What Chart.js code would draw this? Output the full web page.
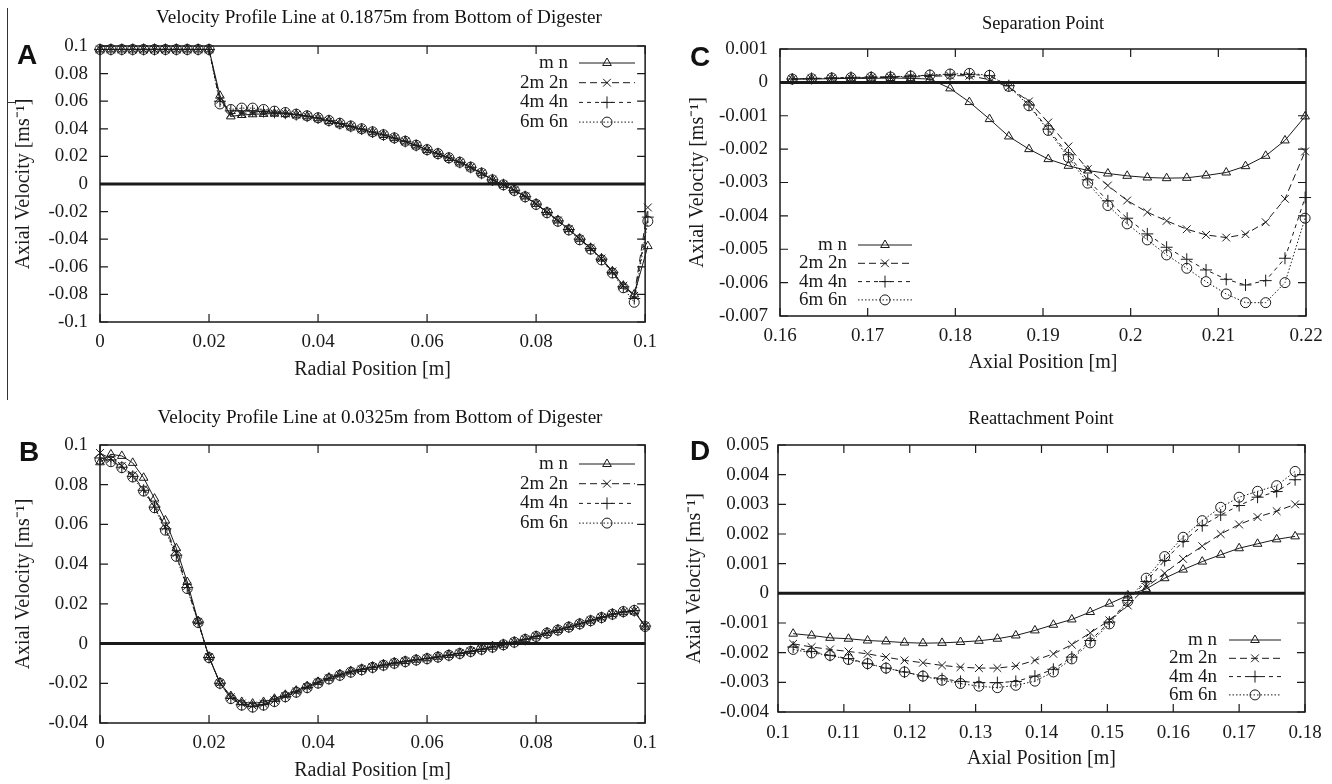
<!DOCTYPE html>
<html>
<head>
<meta charset="utf-8">
<script src="https://cdn.jsdelivr.net/npm/chart.js@4.4.1/dist/chart.umd.min.js"></script>
<style>
  body { margin: 0; background: #fff; }
  #page { position: relative; width: 1332px; height: 784px; overflow: hidden; background: #fff; font-family: "Liberation Serif", serif; color: #111; }
  canvas { position: absolute; }
  .title { position: absolute; font-size: 19px; white-space: nowrap; transform-origin: center; }
  .letter { position: absolute; font-family: "Liberation Sans", Arial, sans-serif; font-weight: bold; font-size: 28px; line-height: 1; }
  .rule { position: absolute; background: #333; }
</style>
</head>
<body>
<div id="page">
  <div class="rule" style="left:7px;top:8px;width:1px;height:392px"></div>
  <div class="rule" style="left:7px;top:102px;width:9px;height:1px"></div>

  <canvas id="chartA" width="666" height="392" style="left:0;top:0"></canvas>
  <canvas id="chartB" width="666" height="392" style="left:0;top:392px"></canvas>
  <canvas id="chartC" width="666" height="392" style="left:666px;top:0"></canvas>
  <canvas id="chartD" width="666" height="392" style="left:666px;top:392px"></canvas>

  <div class="title" data-w="446" style="left:379px;top:17px">Velocity Profile Line at 0.1875m from Bottom of Digester</div>
  <div class="title" data-w="445" style="left:380px;top:417px">Velocity Profile Line at 0.0325m from Bottom of Digester</div>
  <div class="title" data-w="122" style="left:1043px;top:23px">Separation Point</div>
  <div class="title" data-w="145" style="left:1041px;top:418px">Reattachment Point</div>

  <div class="letter" style="left:17px;top:41px">A</div>
  <div class="letter" style="left:19px;top:438px">B</div>
  <div class="letter" style="left:690px;top:43px">C</div>
  <div class="letter" style="left:690px;top:437px">D</div>
</div>
<script>
// series names
const seriesNames = ['m n', '2m 2n', '4m 4n', '6m 6n'];

// Panel A: radial profile at 0.1875m
const xA = [0, 0.002, 0.004, 0.006, 0.008, 0.01, 0.012, 0.014, 0.016, 0.018, 0.02, 0.022, 0.024, 0.026, 0.028, 0.03, 0.032, 0.034, 0.036, 0.038, 0.04, 0.042, 0.044, 0.046, 0.048, 0.05, 0.052, 0.054, 0.056, 0.058, 0.06, 0.062, 0.064, 0.066, 0.068, 0.07, 0.072, 0.074, 0.076, 0.078, 0.08, 0.082, 0.084, 0.086, 0.088, 0.09, 0.092, 0.094, 0.096, 0.098, 0.1005];
const mnA = [0.0975, 0.0975, 0.0975, 0.0975, 0.0975, 0.0975, 0.0975, 0.0975, 0.0975, 0.0975, 0.0975, 0.064, 0.049, 0.050, 0.0505, 0.0508, 0.051, 0.0508, 0.0502, 0.049, 0.0476, 0.0457, 0.0436, 0.0416, 0.0396, 0.0375, 0.0355, 0.0332, 0.0308, 0.0279, 0.0247, 0.0218, 0.0188, 0.0156, 0.012, 0.0078, 0.003, -0.0005, -0.0045, -0.009, -0.0144, -0.0204, -0.0264, -0.0327, -0.0397, -0.0464, -0.054, -0.0633, -0.0737, -0.080, -0.045];
const m2A = [0.0975, 0.0975, 0.0975, 0.0975, 0.0975, 0.0975, 0.0975, 0.0975, 0.0975, 0.0975, 0.0975, 0.061, 0.051, 0.0512, 0.0515, 0.0515, 0.0513, 0.051, 0.0502, 0.049, 0.0476, 0.0457, 0.0436, 0.0416, 0.0396, 0.0375, 0.0355, 0.0332, 0.0308, 0.0279, 0.0247, 0.0218, 0.0188, 0.0156, 0.012, 0.0078, 0.003, -0.0005, -0.0045, -0.009, -0.0144, -0.0204, -0.0264, -0.0327, -0.0397, -0.0464, -0.054, -0.0633, -0.0737, -0.081, -0.017];
const m4A = [0.0975, 0.0975, 0.0975, 0.0975, 0.0975, 0.0975, 0.0975, 0.0975, 0.0975, 0.0975, 0.0975, 0.060, 0.053, 0.053, 0.053, 0.0525, 0.052, 0.0513, 0.0503, 0.0492, 0.0478, 0.0459, 0.0438, 0.0418, 0.0398, 0.0377, 0.0356, 0.0333, 0.0309, 0.028, 0.0248, 0.0219, 0.0189, 0.0157, 0.0121, 0.0078, 0.003, -0.0005, -0.0046, -0.0092, -0.0146, -0.0206, -0.0267, -0.033, -0.04, -0.0468, -0.0545, -0.064, -0.0745, -0.083, -0.024];
const m6A = [0.0975, 0.0975, 0.0975, 0.0975, 0.0975, 0.0975, 0.0975, 0.0975, 0.0975, 0.0975, 0.0975, 0.058, 0.054, 0.055, 0.055, 0.054, 0.0528, 0.0518, 0.0506, 0.0494, 0.048, 0.046, 0.044, 0.042, 0.040, 0.0378, 0.0357, 0.0334, 0.031, 0.0281, 0.0249, 0.022, 0.019, 0.0158, 0.0122, 0.0079, 0.003, -0.0006, -0.0047, -0.0093, -0.0148, -0.0208, -0.027, -0.0333, -0.0404, -0.0472, -0.055, -0.0645, -0.0752, -0.0857, -0.027];
const xTicksA = [0, 0.02, 0.04, 0.06, 0.08, 0.1];
const yTicksA = [-0.1, -0.08, -0.06, -0.04, -0.02, 0, 0.02, 0.04, 0.06, 0.08, 0.1];

// Panel B: radial profile at 0.0325m
const xB = [0, 0.002, 0.004, 0.006, 0.008, 0.01, 0.012, 0.014, 0.016, 0.018, 0.02, 0.022, 0.024, 0.026, 0.028, 0.03, 0.032, 0.034, 0.036, 0.038, 0.04, 0.042, 0.044, 0.046, 0.048, 0.05, 0.052, 0.054, 0.056, 0.058, 0.06, 0.062, 0.064, 0.066, 0.068, 0.07, 0.072, 0.074, 0.076, 0.078, 0.08, 0.082, 0.084, 0.086, 0.088, 0.09, 0.092, 0.094, 0.096, 0.098, 0.1, 0.1013];
const mnB = [0.0913, 0.0953, 0.0945, 0.091, 0.0835, 0.073, 0.062, 0.048, 0.031, 0.0113, -0.0067, -0.0197, -0.0264, -0.0294, -0.0302, -0.0294, -0.0278, -0.0258, -0.0237, -0.0215, -0.0193, -0.0172, -0.0155, -0.014, -0.0128, -0.0117, -0.0106, -0.0096, -0.0088, -0.0081, -0.0074, -0.0066, -0.0057, -0.0048, -0.0038, -0.0027, -0.0016, -0.0005, 0.0008, 0.0022, 0.0037, 0.0054, 0.0069, 0.0084, 0.01, 0.0116, 0.0132, 0.0148, 0.0158, 0.0162, 0.0085, 0];
const m2B = [0.096, 0.093, 0.0895, 0.0848, 0.0778, 0.0692, 0.0588, 0.0455, 0.029, 0.011, -0.0068, -0.0199, -0.027, -0.0302, -0.0312, -0.0304, -0.0286, -0.0264, -0.0242, -0.0219, -0.0196, -0.0175, -0.0157, -0.0142, -0.013, -0.0119, -0.0108, -0.0098, -0.009, -0.0083, -0.0075, -0.0067, -0.0058, -0.0049, -0.0039, -0.0028, -0.0017, -0.0006, 0.0007, 0.0021, 0.0036, 0.0053, 0.0068, 0.0083, 0.0099, 0.0115, 0.0131, 0.0147, 0.0159, 0.0165, 0.009, 0];
const m4B = [0.0935, 0.0925, 0.0888, 0.0842, 0.0772, 0.0687, 0.0578, 0.0445, 0.0282, 0.0108, -0.007, -0.02, -0.0275, -0.0308, -0.0318, -0.0308, -0.029, -0.0267, -0.0244, -0.0221, -0.0198, -0.0177, -0.0159, -0.0143, -0.0131, -0.012, -0.0109, -0.0099, -0.0091, -0.0083, -0.0076, -0.0068, -0.0059, -0.005, -0.004, -0.0029, -0.0018, -0.0006, 0.0007, 0.0021, 0.0036, 0.0053, 0.0068, 0.0083, 0.0099, 0.0115, 0.0131, 0.0148, 0.016, 0.0166, 0.0088, 0];
const m6B = [0.0928, 0.0916, 0.0886, 0.0839, 0.0768, 0.0684, 0.0571, 0.0439, 0.0277, 0.0106, -0.0071, -0.02, -0.0277, -0.031, -0.032, -0.031, -0.0292, -0.0268, -0.0245, -0.0222, -0.0199, -0.0178, -0.016, -0.0144, -0.0132, -0.012, -0.0109, -0.0099, -0.0091, -0.0083, -0.0076, -0.0068, -0.0059, -0.005, -0.004, -0.0029, -0.0018, -0.0006, 0.0007, 0.0021, 0.0036, 0.0053, 0.0068, 0.0083, 0.0099, 0.0115, 0.0131, 0.0148, 0.0161, 0.0167, 0.0086, 0];
const xTicksB = [0, 0.02, 0.04, 0.06, 0.08, 0.1];
const yTicksB = [-0.04, -0.02, 0, 0.02, 0.04, 0.06, 0.08, 0.1];

// Panel C: separation point
const xC = [0.1614, 0.1636, 0.1659, 0.1681, 0.1704, 0.1726, 0.1749, 0.1771, 0.1794, 0.1816, 0.1839, 0.1861, 0.1884, 0.1906, 0.1929, 0.1951, 0.1974, 0.1996, 0.2019, 0.2041, 0.2064, 0.2086, 0.2109, 0.2131, 0.2154, 0.2176, 0.2199];
const mnC = [0.0001, 0.0001, 0.00011, 0.00012, 0.00012, 0.00013, 0.00012, 0.0001, -0.00018, -0.00059, -0.0011, -0.00162, -0.002, -0.0023, -0.0025, -0.00264, -0.00273, -0.0028, -0.00285, -0.00287, -0.00286, -0.00279, -0.0027, -0.00251, -0.0022, -0.00174, -0.00102];
const m2C = [0.0001, 0.00011, 0.00012, 0.00013, 0.00014, 0.00015, 0.00016, 0.00018, 0.0002, 0.0002, 0.00008, -0.00014, -0.00057, -0.0012, -0.00192, -0.0026, -0.00309, -0.00354, -0.00389, -0.00415, -0.0044, -0.00457, -0.00465, -0.00455, -0.00419, -0.00349, -0.00207];
const m4C = [0.0001, 0.00012, 0.00013, 0.00015, 0.00016, 0.00017, 0.00019, 0.00021, 0.00023, 0.00024, 0.0002, -0.0001, -0.00068, -0.0014, -0.00217, -0.00292, -0.00355, -0.00407, -0.00454, -0.00494, -0.0053, -0.00562, -0.0059, -0.00607, -0.00594, -0.00527, -0.00345];
const m6C = [0.0001, 0.00011, 0.00013, 0.00014, 0.00015, 0.00016, 0.00019, 0.00022, 0.00025, 0.00027, 0.00021, -0.00012, -0.0007, -0.00144, -0.00225, -0.00302, -0.00369, -0.00424, -0.00472, -0.00517, -0.00557, -0.00597, -0.00634, -0.0066, -0.0066, -0.006, -0.00407];
const xTicksC = [0.16, 0.17, 0.18, 0.19, 0.2, 0.21, 0.22];
const yTicksC = [-0.007, -0.006, -0.005, -0.004, -0.003, -0.002, -0.001, 0, 0.001];

// Panel D: reattachment point
const xD = [0.1023, 0.1051, 0.1079, 0.1107, 0.1136, 0.1164, 0.1192, 0.122, 0.1249, 0.1277, 0.1305, 0.1333, 0.1361, 0.139, 0.1418, 0.1446, 0.1474, 0.1503, 0.1531, 0.1559, 0.1587, 0.1615, 0.1644, 0.1672, 0.17, 0.1728, 0.1757, 0.1785];
const mnD = [-0.00136, -0.00142, -0.0015, -0.00153, -0.00159, -0.00162, -0.00166, -0.00168, -0.00167, -0.00164, -0.0016, -0.00153, -0.00142, -0.00125, -0.00106, -0.00088, -0.00063, -0.00035, -0.00007, 0.00015, 0.00051, 0.0008, 0.00107, 0.0013, 0.00152, 0.00167, 0.00182, 0.00192];
const m2D = [-0.0017, -0.00181, -0.00189, -0.00196, -0.00204, -0.00215, -0.00226, -0.00234, -0.00243, -0.00249, -0.00252, -0.00252, -0.00245, -0.00226, -0.00204, -0.00173, -0.00133, -0.00091, -0.00041, 0.00021, 0.00068, 0.00116, 0.00159, 0.002, 0.00232, 0.00257, 0.00277, 0.003];
const m4D = [-0.00181, -0.00196, -0.00209, -0.0022, -0.00237, -0.00252, -0.00265, -0.00279, -0.00288, -0.00297, -0.00301, -0.00301, -0.00297, -0.00279, -0.00256, -0.00215, -0.00159, -0.00097, -0.00024, 0.0004, 0.00111, 0.00175, 0.00228, 0.00264, 0.00296, 0.00324, 0.00343, 0.00383];
const m6D = [-0.00189, -0.00201, -0.00209, -0.00223, -0.00237, -0.00252, -0.00265, -0.00279, -0.00293, -0.00304, -0.00313, -0.00318, -0.0031, -0.00296, -0.00265, -0.00221, -0.00167, -0.00103, -0.00027, 0.00051, 0.00124, 0.00189, 0.00245, 0.0029, 0.00324, 0.00344, 0.00363, 0.00411];
const xTicksD = [0.1, 0.11, 0.12, 0.13, 0.14, 0.15, 0.16, 0.17, 0.18];
const yTicksD = [-0.004, -0.003, -0.002, -0.001, 0, 0.001, 0.002, 0.003, 0.004, 0.005];

const ink = '#1a1a1a';
const serif = '"Liberation Serif", "Times New Roman", serif';
const markers = [
  { pointStyle: 'triangle', borderDash: [], pointRadius: 5 },
  { pointStyle: 'crossRot', borderDash: [7, 4], pointRadius: 5.5 },
  { pointStyle: 'cross', borderDash: [4, 4], pointRadius: 6 },
  { pointStyle: 'circle', borderDash: [1.5, 2], pointRadius: 5 },
];
const fmt = v => String(+Number(v).toFixed(4));

// frame, zero line and inward ticks on all four sides
const frameBox = {
  id: 'frameBox',
  beforeDatasetsDraw(chart) {
    const { ctx, chartArea: a, scales: { x, y } } = chart;
    ctx.save();
    ctx.strokeStyle = ink;
    const y0 = y.getPixelForValue(0);
    ctx.lineWidth = 3;
    ctx.beginPath(); ctx.moveTo(a.left, y0); ctx.lineTo(a.right, y0); ctx.stroke();
    ctx.lineWidth = 1.5;
    ctx.strokeRect(a.left, a.top, a.right - a.left, a.bottom - a.top);
    ctx.lineWidth = 1.2;
    const tl = 8;
    ctx.beginPath();
    x.ticks.forEach(t => {
      const px = x.getPixelForValue(t.value);
      ctx.moveTo(px, a.bottom); ctx.lineTo(px, a.bottom - tl);
      ctx.moveTo(px, a.top); ctx.lineTo(px, a.top + tl);
    });
    y.ticks.forEach(t => {
      const py = y.getPixelForValue(t.value);
      ctx.moveTo(a.left, py); ctx.lineTo(a.left + tl, py);
      ctx.moveTo(a.right, py); ctx.lineTo(a.right - tl, py);
    });
    ctx.stroke();
    ctx.restore();
  }
};

// gnuplot-like key drawn inside the plot box
const boxLegend = {
  id: 'boxLegend',
  afterDatasetsDraw(chart, args, opts) {
    const { ctx, chartArea: a } = chart;
    ctx.save();
    ctx.font = '19px ' + serif;
    ctx.textAlign = 'right';
    ctx.textBaseline = 'middle';
    chart.data.datasets.forEach((ds, i) => {
      const cy = a.top + opts.top + i * opts.rowH;
      const tx = a.left + opts.left;
      ctx.fillStyle = ink;
      ctx.fillText(ds.label, tx, cy);
      const x0 = tx + opts.gap, x1 = x0 + opts.lineW;
      ctx.strokeStyle = ink;
      ctx.lineWidth = 1;
      ctx.setLineDash(ds.borderDash);
      ctx.beginPath(); ctx.moveTo(x0, cy); ctx.lineTo(x1, cy); ctx.stroke();
      ctx.setLineDash([]);
      ctx.fillStyle = 'rgba(0,0,0,0)';
      Chart.helpers.drawPoint(ctx, { pointStyle: ds.pointStyle, radius: ds.pointRadius, rotation: 0, borderWidth: 1 }, (x0 + x1) / 2, cy);
    });
    ctx.restore();
  }
};

function makePanel(id, p) {
  const datasets = p.series.map((ys, i) => ({
    label: seriesNames[i],
    data: p.xs.map((xv, j) => ({ x: xv, y: ys[j] })),
    borderColor: ink,
    borderWidth: 1,
    borderDash: markers[i].borderDash,
    pointStyle: markers[i].pointStyle,
    pointRadius: markers[i].pointRadius,
    pointBorderWidth: 1,
    pointBorderColor: ink,
    pointBackgroundColor: 'rgba(0,0,0,0)',
    tension: 0,
    clip: false,
  }));
  new Chart(document.getElementById(id), {
    type: 'line',
    data: { datasets },
    plugins: [frameBox, boxLegend],
    options: {
      responsive: false,
      animation: false,
      devicePixelRatio: 1,
      layout: { padding: { top: p.top, right: p.right, left: 0, bottom: 0 } },
      plugins: {
        legend: { display: false },
        tooltip: { enabled: false },
        boxLegend: p.legend,
      },
      scales: {
        x: {
          type: 'linear',
          min: p.xTicks[0],
          max: p.xTicks[p.xTicks.length - 1],
          afterBuildTicks: s => { s.ticks = p.xTicks.map(v => ({ value: v })); },
          afterFit: s => { s.height = p.xH; },
          grid: { display: false, drawTicks: false },
          border: { display: false },
          ticks: { padding: p.xPad, color: ink, font: { family: serif, size: 19 }, maxRotation: 0, autoSkip: false, callback: fmt },
          title: { display: true, text: p.xTitle, color: ink, font: { family: serif, size: 20 }, padding: { top: 0, bottom: p.xTitlePad } },
        },
        y: {
          type: 'linear',
          min: p.yTicks[0],
          max: p.yTicks[p.yTicks.length - 1],
          afterBuildTicks: s => { s.ticks = p.yTicks.map(v => ({ value: v })); },
          afterFit: s => { s.width = p.yW; },
          grid: { display: false, drawTicks: false },
          border: { display: false },
          ticks: { padding: p.yPad, color: ink, font: { family: serif, size: 19 }, autoSkip: false, callback: fmt },
          title: { display: true, text: 'Axial Velocity [ms\u207B\u00B9]', color: ink, font: { family: serif, size: 20 }, padding: { top: p.yTitlePad, bottom: 0 } },
        },
      },
    },
  });
}

makePanel('chartA', {
  xs: xA, series: [mnA, m2A, m4A, m6A], xTicks: xTicksA, yTicks: yTicksA,
  xTitle: 'Radial Position [m]', top: 46, right: 16, yW: 100, xH: 70,
  xPad: 9, yPad: 12, xTitlePad: 10, yTitlePad: 11.5,
  legend: { left: 468, top: 17, rowH: 19.7, gap: 11, lineW: 56 },
});
makePanel('chartB', {
  xs: xB, series: [mnB, m2B, m4B, m6B], xTicks: xTicksB, yTicks: yTicksB,
  xTitle: 'Radial Position [m]', top: 53, right: 16, yW: 100, xH: 61,
  xPad: 9, yPad: 12, xTitlePad: 1, yTitlePad: 11.5,
  legend: { left: 468, top: 19, rowH: 19.7, gap: 11, lineW: 56 },
});
makePanel('chartC', {
  xs: xC, series: [mnC, m2C, m4C, m6C], xTicks: xTicksC, yTicks: yTicksC,
  xTitle: 'Axial Position [m]', top: 49, right: 26, yW: 114, xH: 76,
  xPad: 9, yPad: 12, xTitlePad: 17, yTitlePad: 20,
  legend: { left: 67, top: 196, rowH: 18.3, gap: 11, lineW: 54 },
});
makePanel('chartD', {
  xs: xD, series: [mnD, m2D, m4D, m6D], xTicks: xTicksD, yTicks: yTicksD,
  xTitle: 'Axial Position [m]', top: 53, right: 27, yW: 112, xH: 72,
  xPad: 10, yPad: 9, xTitlePad: 13, yTitlePad: 17,
  legend: { left: 439, top: 195, rowH: 18.3, gap: 12, lineW: 52 },
});

// fit the titles to the width they have in the figure
document.querySelectorAll('.title').forEach(el => {
  const k = Number(el.dataset.w) / el.offsetWidth;
  el.style.transform = 'translate(-50%, -50%) scaleX(' + k.toFixed(3) + ')';
});
</script>
</body>
</html>
